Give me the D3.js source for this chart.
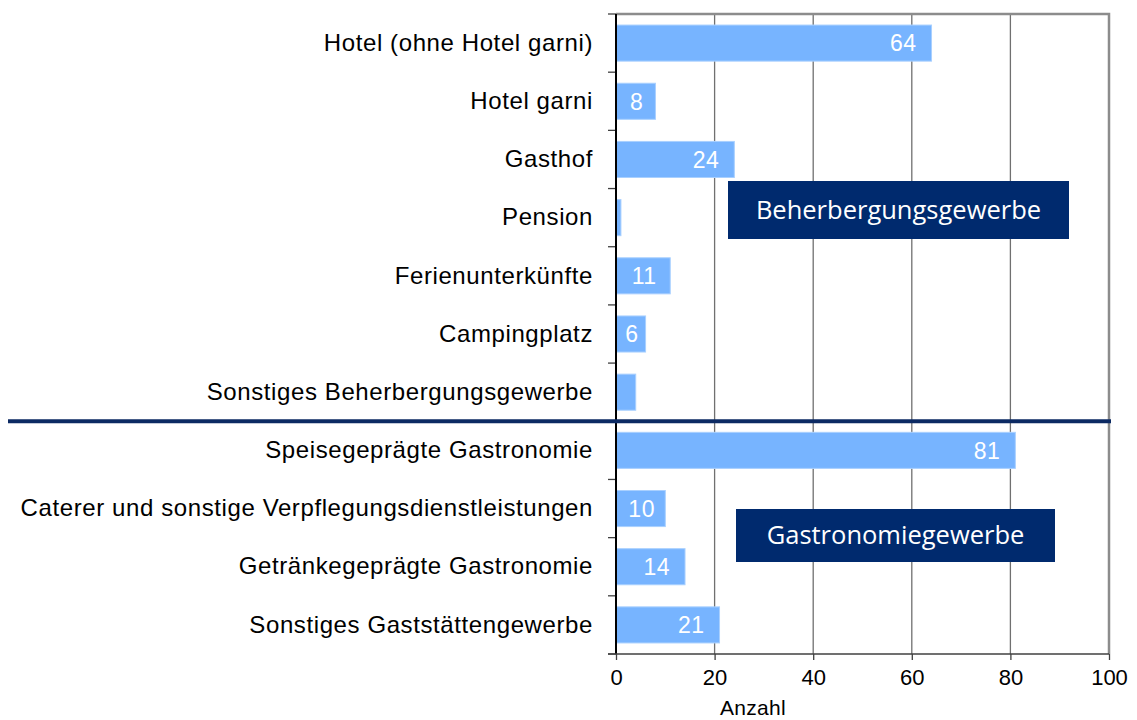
<!DOCTYPE html>
<html lang="de">
<head>
<meta charset="UTF-8">
<title>Betriebe nach Art</title>
<script src="https://d3js.org/d3.v7.min.js"></script>
<style>
  body { margin: 0; background: #fff; }
  svg text { font-family: "Liberation Sans", Arial, sans-serif; }
</style>
</head>
<body>
<svg width="1137" height="720"></svg>
<script>
    // data
    const categories = [
        "Hotel (ohne Hotel garni)",
        "Hotel garni",
        "Gasthof",
        "Pension",
        "Ferienunterkünfte",
        "Campingplatz",
        "Sonstiges Beherbergungsgewerbe",
        "Speisegeprägte Gastronomie",
        "Caterer und sonstige Verpflegungsdienstleistungen",
        "Getränkegeprägte Gastronomie",
        "Sonstiges Gaststättengewerbe"
    ]
    const values = [64, 8, 24, 1, 11, 6, 4, 81, 10, 14, 21]
    // data labels shown (empty where the chart has none)
    const valueLabels = ["64", "8", "24", "", "11", "6", "", "81", "10", "14", "21"]
    const xTicks = [0, 20, 40, 60, 80, 100]
    const groups = [
        {name: "Beherbergungsgewerbe", first: 0, last: 6},
        {name: "Gastronomiegewerbe", first: 7, last: 10}
    ]

    let svg = d3.select('svg')
    let pLeft = 616, pRight = 1109, pTop = 14, pBottom = 654

    let x = d3.scaleLinear().domain([0, 100]).range([pLeft, pRight])
    let y = d3.scaleBand().domain(categories).range([pTop, pBottom]).paddingInner(0.38).paddingOuter(0.19)
    let step = y.step()

    // vertical grid lines
    svg.append("g")
        .selectAll("line")
        .data(xTicks.slice(1, -1))
        .enter()
        .append("line")
        .attr("x1", d => x(d)).attr("x2", d => x(d))
        .attr("y1", pTop).attr("y2", pBottom)
        .attr("stroke", "#707070")
        .attr("stroke-width", 1.3)

    // plot frame (top + right)
    svg.append("path")
        .attr("d", `M${pLeft},${pTop}H${pRight}V${pBottom}`)
        .attr("fill", "none")
        .attr("stroke", "#8c8c8c")
        .attr("stroke-width", 2.5)

    // bars
    svg.append("g")
        .selectAll("rect")
        .data(values)
        .enter()
        .append("rect")
        .attr("x", x(0))
        .attr("y", (d, i) => y(categories[i]))
        .attr("width", d => x(d) - x(0))
        .attr("height", y.bandwidth())
        .attr("fill", "#77b4ff")
        .attr("stroke", "#a9d0ff")
        .attr("stroke-width", 1)

    // value labels inside bar end
    let narrow = d => x(d) - x(0) < 60
    svg.append("g")
        .selectAll("text")
        .data(values)
        .enter()
        .append("text")
        .text((d, i) => valueLabels[i])
        .attr("x", d => narrow(d) ? (x(0) + x(d)) / 2 + 1 : x(d) - 15)
        .attr("y", (d, i) => y(categories[i]) + y.bandwidth() / 2)
        .attr("dy", "0.36em")
        .attr("text-anchor", d => narrow(d) ? "middle" : "end")
        .attr("font-size", 23)
        .attr("letter-spacing", 0.5)
        .attr("fill", "#fff")

    // y axis
    let yAxis = d3.axisLeft(y).tickSize(0).tickPadding(23)
    let yg = svg.append("g").attr("transform", `translate(${pLeft},0)`).call(yAxis)
    yg.select(".domain").remove()
    yg.selectAll("text").attr("font-size", 24).attr("letter-spacing", 0.6).attr("fill", "#000")
        .style("font-family", '"Liberation Sans", Arial, sans-serif')

    // category boundary ticks
    svg.append("g")
        .selectAll("line")
        .data(d3.range(categories.length + 1))
        .enter()
        .append("line")
        .attr("x1", pLeft - 8).attr("x2", pLeft)
        .attr("y1", i => pTop + i * step)
        .attr("y2", i => pTop + i * step)
        .attr("stroke", "#404040")
        .attr("stroke-width", 1.3)

    svg.append("line")
        .attr("x1", pLeft).attr("x2", pLeft)
        .attr("y1", pTop).attr("y2", pBottom)
        .attr("stroke", "#000").attr("stroke-width", 2)

    // x axis
    let xAxis = d3.axisBottom(x).tickValues(xTicks).tickSize(6).tickPadding(9)
    let xg = svg.append("g").attr("transform", `translate(0,${pBottom})`).call(xAxis)
    xg.select(".domain").attr("d", `M${pLeft - 8},0H${pRight}`).attr("stroke", "#404040").attr("stroke-width", 1.5)
    xg.selectAll(".tick line").attr("stroke", "#404040").attr("stroke-width", 1.3)
    xg.selectAll("text").attr("font-size", 22).attr("fill", "#000")
        .style("font-family", '"Liberation Sans", Arial, sans-serif')

    svg.append("text")
        .attr("x", 753).attr("y", 715)
        .attr("text-anchor", "middle")
        .attr("font-size", 21)
        .attr("letter-spacing", 0.3)
        .text("Anzahl")

    // divider between groups
    let divY = (y(categories[6]) + y.bandwidth() + y(categories[7])) / 2
    svg.append("line")
        .attr("x1", 8).attr("x2", pRight + 2)
        .attr("y1", divY).attr("y2", divY)
        .attr("stroke", "#0c2a63").attr("stroke-width", 4)

    // group boxes
    const boxes = [
        {x: 728, y: 181, w: 341, h: 58},
        {x: 736, y: 509, w: 319, h: 53}
    ]
    groups.forEach((g, i) => {
        let b = boxes[i]
        svg.append("rect")
            .attr("x", b.x).attr("y", b.y).attr("width", b.w).attr("height", b.h)
            .attr("fill", "#002a6e")
        svg.append("text")
            .attr("x", b.x + b.w / 2).attr("y", b.y + b.h / 2)
            .attr("dy", "0.35em")
            .attr("text-anchor", "middle")
            .attr("font-size", 25.5)
            .attr("fill", "#fff")
            .style("font-family", '"Open Sans", sans-serif')
            .text(g.name)
    })
</script>
</body>
</html>
